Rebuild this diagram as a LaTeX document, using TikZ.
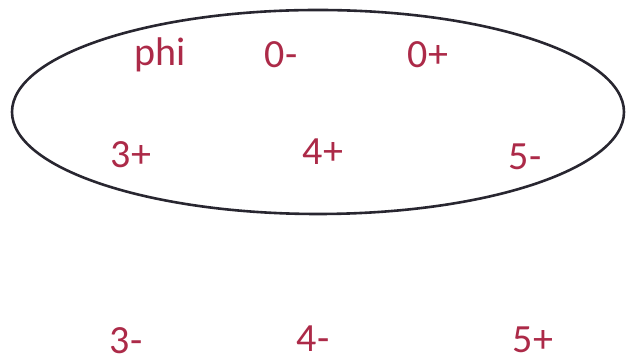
\documentclass[tikz,border=0pt]{standalone}
\usepackage{fontspec}
\setmainfont{Carlito}
\usetikzlibrary{shapes.geometric}
\definecolor{lbl}{RGB}{172,42,72}
\definecolor{ring}{RGB}{40,38,48}
\begin{document}
\begin{tikzpicture}[x=0.5pt,y=-0.5pt,
  lab/.style={text=lbl,font=\fontsize{20}{24}\selectfont,anchor=base,inner sep=0pt}]
\useasboundingbox (0,0) rectangle (628,362);
\node[draw=ring,line width=1.3pt,ellipse,minimum width=306pt,minimum height=102pt,inner sep=0pt] (set) at (318,112) {};
\node[lab] (phi) at (160,66) {phi};
\node[lab] (zm) at (281,68) {0-};
\node[lab] (zp) at (428,68) {0+};
\node[lab] (tp) at (131,168) {3+};
\node[lab] (fp) at (323,165) {4+};
\node[lab] (vm) at (525,170) {5-};
\node[lab] (tm) at (126,354) {3-};
\node[lab] (fm) at (313,352) {4-};
\node[lab] (vp) at (533,353) {5+};
\end{tikzpicture}
\end{document}
